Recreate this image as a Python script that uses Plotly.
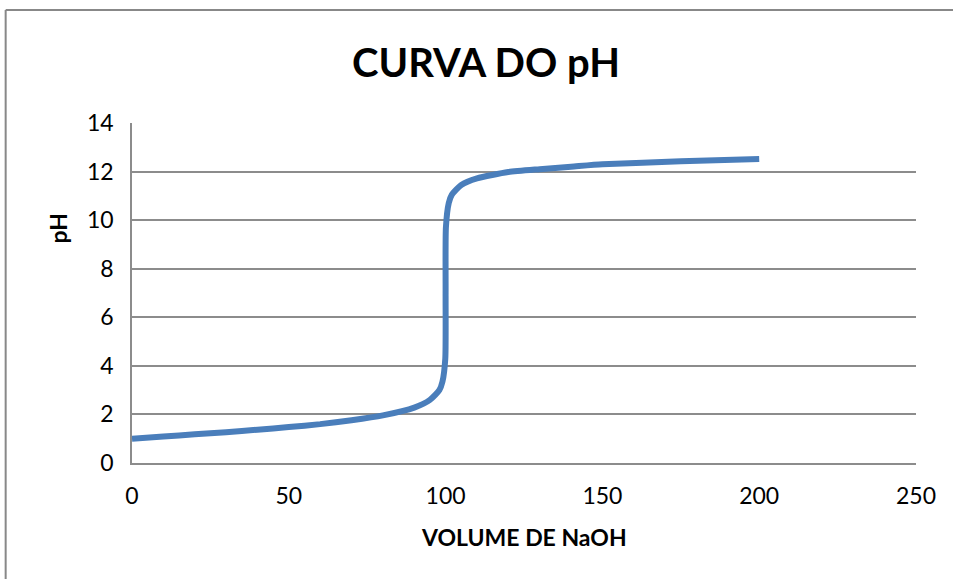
import plotly.graph_objects as go

# Titration curve: volume of NaOH added vs pH
volume_naoh = [0, 10, 20, 30, 40, 50, 60, 70, 80, 90, 95, 98, 99, 99.9, 100,
               100.1, 101, 102, 105, 110, 120, 130, 140, 150, 175, 200]
ph_values = [1.0, 1.09, 1.18, 1.27, 1.37, 1.48, 1.6, 1.76, 1.96, 2.28, 2.6, 3.0,
             3.35, 4.3, 7.0, 9.7, 10.7, 11.05, 11.45, 11.72, 11.98, 12.1, 12.2,
             12.3, 12.42, 12.52]

x_ticks = [0, 50, 100, 150, 200, 250]
y_ticks = [0, 2, 4, 6, 8, 10, 12, 14]

FONT = "Lato"
GRID = "#8c8c8c"

fig = go.Figure()
fig.add_trace(go.Scatter(
    x=volume_naoh, y=ph_values, mode="lines",
    line=dict(color="#4a7ebb", width=6, shape="spline", smoothing=0.6),
    showlegend=False, hoverinfo="x+y",
))

W, H = 953, 579
L, R, T, B = 131.5, 36.5, 123, 116
pw, ph = W - L - R, H - T - B

def px_to_paper_x(px):
    return (px - L) / pw

def px_to_paper_y(py):
    return (H - B - py) / ph

fig.update_layout(
    width=W, height=H,
    margin=dict(l=L, r=R, t=T, b=B, pad=0),
    paper_bgcolor="white", plot_bgcolor="white",
    font=dict(family=FONT, color="black"),
    xaxis=dict(
        range=[0, 250], tickvals=x_ticks, ticks="", showgrid=False,
        showline=True, linecolor=GRID, linewidth=1.5, zeroline=False,
        tickfont=dict(size=23, family=FONT), ticklabelstandoff=12,
        fixedrange=True,
    ),
    yaxis=dict(
        range=[0, 14], tickvals=y_ticks, ticks="", showgrid=True,
        gridcolor=GRID, gridwidth=1.5,
        showline=True, linecolor=GRID, linewidth=1.5, zeroline=False,
        tickfont=dict(size=23, family=FONT), ticklabelstandoff=12,
        fixedrange=True,
    ),
    annotations=[
        dict(text="<b>CURVA DO pH</b>", xref="paper", yref="paper",
             x=px_to_paper_x(486), y=px_to_paper_y(62),
             xanchor="center", yanchor="middle", showarrow=False,
             font=dict(size=40, family=FONT, color="black")),
        dict(text="<b>VOLUME DE NaOH</b>", xref="paper", yref="paper",
             x=px_to_paper_x(523.5), y=px_to_paper_y(537),
             xanchor="center", yanchor="middle", showarrow=False,
             font=dict(size=23, family=FONT, color="black")),
        dict(text="<b>pH</b>", xref="paper", yref="paper",
             x=px_to_paper_x(57), y=px_to_paper_y(229),
             xanchor="center", yanchor="middle", showarrow=False,
             textangle=-90,
             font=dict(size=23, family=FONT, color="black")),
    ],
    shapes=[
        # chart area border (top and left edges fall inside the view)
        dict(type="line", xref="paper", yref="paper",
             x0=px_to_paper_x(5), x1=px_to_paper_x(1000),
             y0=px_to_paper_y(10), y1=px_to_paper_y(10),
             line=dict(color="#888888", width=2)),
        dict(type="line", xref="paper", yref="paper",
             x0=px_to_paper_x(5), x1=px_to_paper_x(5),
             y0=px_to_paper_y(10), y1=px_to_paper_y(620),
             line=dict(color="#888888", width=2)),
    ],
)

fig.write_html("out.html")
